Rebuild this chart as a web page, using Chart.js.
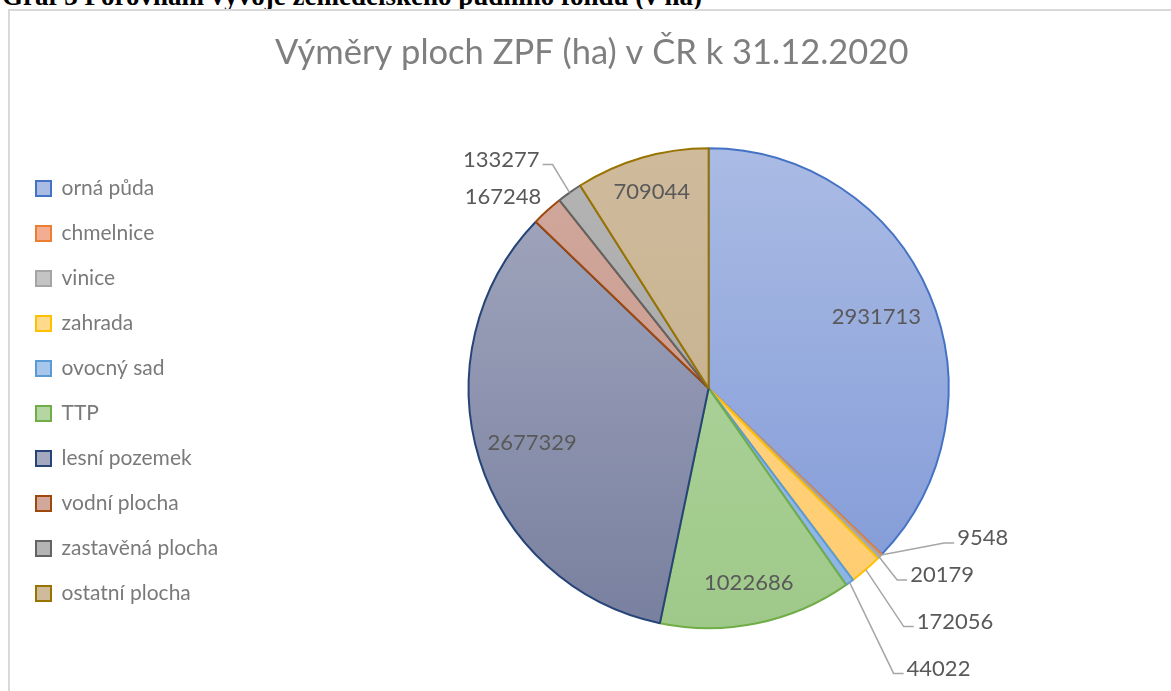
<!DOCTYPE html>
<html>
<head>
<meta charset="utf-8">
<script src="https://cdn.jsdelivr.net/npm/chart.js@4"></script>
<style>
  html, body { margin: 0; padding: 0; background: #fff; overflow: hidden; }
  body { width: 1171px; height: 691px; position: relative; }
  #caption {
    position: absolute; left: 2px; top: -17px; margin: 0;
    font: bold 27px "Liberation Serif", "Times New Roman", serif; line-height: 27px;
    color: #000; white-space: nowrap;
  }
  #frame {
    position: absolute; left: 8px; top: 9px; width: 1300px; height: 800px;
    border-left: 2px solid #d9d9d9; border-top: 2px solid #d9d9d9;
  }
  #wrap { position: absolute; left: 0; top: 0; width: 1189px; height: 691px; }
</style>
</head>
<body>
<p id="caption">Graf 3 Porovnání vývoje zemědělského půdního fondu (v ha)</p>
<div id="frame"></div>
<div id="wrap"><canvas id="myChart"></canvas></div>
<script>
const categories = ['orná půda', 'chmelnice', 'vinice', 'zahrada', 'ovocný sad', 'TTP',
    'lesní pozemek', 'vodní plocha', 'zastavěná plocha', 'ostatní plocha'];
const values = [2931713, 9548, 20179, 172056, 44022, 1022686, 2677329, 167248, 133277, 709044];

const BORDERS = ['#4472c4', '#ed7d31', '#a5a5a5', '#ffc000', '#5b9bd5', '#70ad47',
    '#264478', '#9e480e', '#636363', '#997300'];
const FILL_TOP = ['#aabbe4', '#f2ad92', '#c4c4c4', '#ffd98c', '#a6c6ec', '#b3d6a2',
    '#a5a9c0', '#d2a89c', '#b4b4b4', '#cfbb9c'];
const FILL_BOTTOM = ['#7f98d6', '#eb9a7a', '#a9a9a9', '#ffcb6e', '#8ab3e3', '#9fc98a',
    '#78809f', '#c5978a', '#a2a2a2', '#c2ab87'];

// label placement: inside -> fraction of radius, outside -> offset from the arc edge
const labelLayout = {
    0: { r: 0.76 },
    1: { dx: 76, dy: -17 },
    2: { dx: 31, dy: 18 },
    3: { dx: 51, dy: 52 },
    4: { dx: 57, dy: 86 },
    5: { r: 0.83 },
    6: { r: 0.77 },
    7: { dx: -6, dy: -14, noLine: true },
    8: { dx: -30, dy: -33 },
    9: { r: 0.85 }
};

const RADIUS = 240;

let fillColor = (ctx) => {
    const i = ctx.dataIndex;
    const chart = ctx.chart;
    const meta = chart.getDatasetMeta(0);
    const arc = meta.data[i];
    if (!chart.chartArea || !arc) return FILL_TOP[i];
    const cy = (chart.chartArea.top + chart.chartArea.bottom) / 2;
    const g = chart.ctx.createLinearGradient(0, cy - RADIUS, 0, cy + RADIUS);
    g.addColorStop(0, FILL_TOP[i]);
    g.addColorStop(1, FILL_BOTTOM[i]);
    return g;
};

const sliceLabels = {
    id: 'sliceLabels',
    afterDatasetsDraw(chart) {
        const ctx = chart.ctx;
        const meta = chart.getDatasetMeta(0);
        ctx.save();
        ctx.font = '22px Lato';
        ctx.fillStyle = '#595959';
        meta.data.forEach((arc, i) => {
            const p = arc.getProps(['x', 'y', 'startAngle', 'endAngle', 'outerRadius'], true);
            const mid = (p.startAngle + p.endAngle) / 2;
            const lay = labelLayout[i];
            const text = String(values[i]);
            if (lay.r !== undefined) {
                ctx.textAlign = 'center';
                ctx.textBaseline = 'middle';
                ctx.fillText(text, p.x + Math.cos(mid) * p.outerRadius * lay.r,
                    p.y + Math.sin(mid) * p.outerRadius * lay.r);
                return;
            }
            const ex = p.x + Math.cos(mid) * p.outerRadius;
            const ey = p.y + Math.sin(mid) * p.outerRadius;
            const tx = ex + lay.dx, ty = ey + lay.dy;
            const side = lay.dx >= 0 ? 1 : -1;
            if (!lay.noLine) {
                const ly = ty + 5;
                ctx.beginPath();
                ctx.strokeStyle = '#a6a6a6';
                ctx.lineWidth = 1.5;
                ctx.moveTo(ex, ey);
                ctx.lineTo(tx - side * 13, ly);
                ctx.lineTo(tx - side * 3, ly);
                ctx.stroke();
            }
            ctx.textAlign = side > 0 ? 'left' : 'right';
            ctx.textBaseline = 'middle';
            ctx.fillText(text, tx, ty);
        });
        ctx.restore();
    }
};

const data = {
    labels: categories,
    datasets: [{
        data: values,
        backgroundColor: fillColor,
        borderColor: BORDERS,
        borderWidth: 2,
        radius: RADIUS
    }]
};

const config = {
    type: 'pie',
    data: data,
    plugins: [sliceLabels],
    options: {
        responsive: false,
        animation: false,
        layout: { padding: { left: 12, right: 0, top: 0, bottom: 63 } },
        plugins: {
            tooltip: { enabled: false },
            title: {
                display: true,
                text: 'Výměry ploch ZPF (ha) v ČR k 31.12.2020  ',
                color: '#7f7f7f',
                font: { family: 'Lato', size: 34.5, weight: 'normal' },
                padding: { top: 32, bottom: 75 }
            },
            legend: {
                position: 'left',
                align: 'end',
                labels: {
                    color: '#7a7a7a',
                    font: { family: 'Lato', size: 21 },
                    boxWidth: 15,
                    boxHeight: 15,
                    padding: 24,
                    generateLabels: (chart) => categories.map((c, i) => ({
                        text: c,
                        fillStyle: FILL_TOP[i],
                        strokeStyle: BORDERS[i],
                        lineWidth: 2,
                        fontColor: '#7a7a7a',
                        hidden: false,
                        index: i
                    }))
                }
            }
        }
    }
};

const canvas = document.getElementById('myChart');
canvas.width = 1189;
canvas.height = 691;
var myChart = new Chart(canvas, config);
</script>
</body>
</html>
